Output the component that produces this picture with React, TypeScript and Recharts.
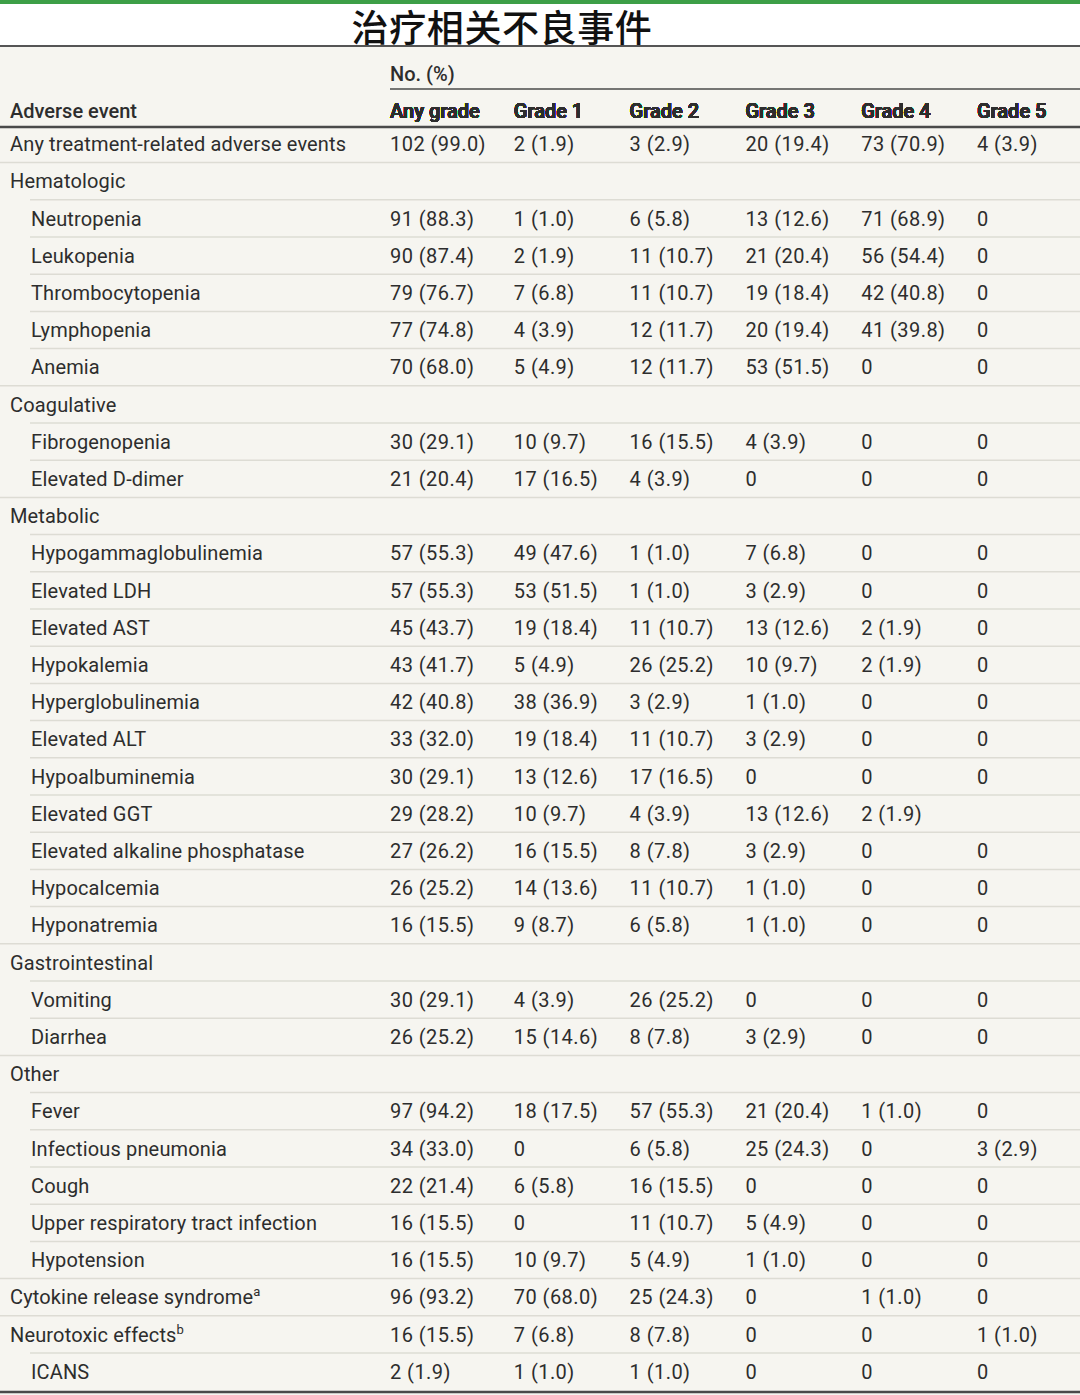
import React from "react";
import { ScatterChart, Scatter, XAxis, YAxis, Customized } from "recharts";

// table content
const gradeColumns = ["Any grade", "Grade 1", "Grade 2", "Grade 3", "Grade 4", "Grade 5"];

const events = [
  "Any treatment-related adverse events",
  "Hematologic",
  "Neutropenia",
  "Leukopenia",
  "Thrombocytopenia",
  "Lymphopenia",
  "Anemia",
  "Coagulative",
  "Fibrogenopenia",
  "Elevated D-dimer",
  "Metabolic",
  "Hypogammaglobulinemia",
  "Elevated LDH",
  "Elevated AST",
  "Hypokalemia",
  "Hyperglobulinemia",
  "Elevated ALT",
  "Hypoalbuminemia",
  "Elevated GGT",
  "Elevated alkaline phosphatase",
  "Hypocalcemia",
  "Hyponatremia",
  "Gastrointestinal",
  "Vomiting",
  "Diarrhea",
  "Other",
  "Fever",
  "Infectious pneumonia",
  "Cough",
  "Upper respiratory tract infection",
  "Hypotension",
  "Cytokine release syndrome",
  "Neurotoxic effects",
  "ICANS",
];

// 0 = top level, 1 = indented
const levels = [0, 0, 1, 1, 1, 1, 1, 0, 1, 1, 0, 1, 1, 1, 1, 1, 1, 1, 1, 1, 1, 1, 0, 1, 1, 0, 1, 1, 1, 1, 1, 0, 0, 1];

const footnotes: Record<string, string> = {
  "Cytokine release syndrome": "a",
  "Neurotoxic effects": "b",
};

const anyGrade = ["102 (99.0)", "", "91 (88.3)", "90 (87.4)", "79 (76.7)", "77 (74.8)", "70 (68.0)", "", "30 (29.1)", "21 (20.4)", "", "57 (55.3)", "57 (55.3)", "45 (43.7)", "43 (41.7)", "42 (40.8)", "33 (32.0)", "30 (29.1)", "29 (28.2)", "27 (26.2)", "26 (25.2)", "16 (15.5)", "", "30 (29.1)", "26 (25.2)", "", "97 (94.2)", "34 (33.0)", "22 (21.4)", "16 (15.5)", "16 (15.5)", "96 (93.2)", "16 (15.5)", "2 (1.9)"];
const grade1 = ["2 (1.9)", "", "1 (1.0)", "2 (1.9)", "7 (6.8)", "4 (3.9)", "5 (4.9)", "", "10 (9.7)", "17 (16.5)", "", "49 (47.6)", "53 (51.5)", "19 (18.4)", "5 (4.9)", "38 (36.9)", "19 (18.4)", "13 (12.6)", "10 (9.7)", "16 (15.5)", "14 (13.6)", "9 (8.7)", "", "4 (3.9)", "15 (14.6)", "", "18 (17.5)", "0", "6 (5.8)", "0", "10 (9.7)", "70 (68.0)", "7 (6.8)", "1 (1.0)"];
const grade2 = ["3 (2.9)", "", "6 (5.8)", "11 (10.7)", "11 (10.7)", "12 (11.7)", "12 (11.7)", "", "16 (15.5)", "4 (3.9)", "", "1 (1.0)", "1 (1.0)", "11 (10.7)", "26 (25.2)", "3 (2.9)", "11 (10.7)", "17 (16.5)", "4 (3.9)", "8 (7.8)", "11 (10.7)", "6 (5.8)", "", "26 (25.2)", "8 (7.8)", "", "57 (55.3)", "6 (5.8)", "16 (15.5)", "11 (10.7)", "5 (4.9)", "25 (24.3)", "8 (7.8)", "1 (1.0)"];
const grade3 = ["20 (19.4)", "", "13 (12.6)", "21 (20.4)", "19 (18.4)", "20 (19.4)", "53 (51.5)", "", "4 (3.9)", "0", "", "7 (6.8)", "3 (2.9)", "13 (12.6)", "10 (9.7)", "1 (1.0)", "3 (2.9)", "0", "13 (12.6)", "3 (2.9)", "1 (1.0)", "1 (1.0)", "", "0", "3 (2.9)", "", "21 (20.4)", "25 (24.3)", "0", "5 (4.9)", "1 (1.0)", "0", "0", "0"];
const grade4 = ["73 (70.9)", "", "71 (68.9)", "56 (54.4)", "42 (40.8)", "41 (39.8)", "0", "", "0", "0", "", "0", "0", "2 (1.9)", "2 (1.9)", "0", "0", "0", "2 (1.9)", "0", "0", "0", "", "0", "0", "", "1 (1.0)", "0", "0", "0", "0", "1 (1.0)", "0", "0"];
const grade5 = ["4 (3.9)", "", "0", "0", "0", "0", "0", "", "0", "0", "", "0", "0", "0", "0", "0", "0", "0", "", "0", "0", "0", "", "0", "0", "", "0", "3 (2.9)", "0", "0", "0", "0", "1 (1.0)", "0"];

const gradeValues = [anyGrade, grade1, grade2, grade3, grade4, grade5];

const cells = events.flatMap((event, i) =>
  gradeColumns.map((grade, j) => ({ event, grade, text: gradeValues[j][i] }))
);

const FONT = 'Roboto, "Noto Sans", sans-serif';
const INK = "#2d2d2d";
const ROW_H = 37.2;

function CellText(props: any) {
  const { cx, cy, payload } = props;
  const dx = payload.grade === gradeColumns[0] ? -8 : 0;
  return (
    <text x={cx + dx} y={cy} dy="0.36em" fontSize={20} letterSpacing={0.45} fill={INK} fontFamily={FONT}>
      {payload.text}
    </text>
  );
}

function EventTick(props: any) {
  const { y, payload } = props;
  const idx = events.indexOf(payload.value);
  const lvl = levels[idx];
  const sup = footnotes[payload.value];
  return (
    <g>
      {idx > 0 && (
        <line
          x1={lvl ? 30 : 0}
          x2={1080}
          y1={y - ROW_H / 2}
          y2={y - ROW_H / 2}
          stroke="#dddcd4"
          strokeWidth={1.5}
        />
      )}
      <text
        x={lvl ? 31 : 10}
        y={y}
        dy="0.36em"
        fontSize={20}
        letterSpacing={0.15}
        fill={INK}
        fontFamily={FONT}
        textAnchor="start"
      >
        {payload.value}
        {sup && (
          <tspan dy={-8} fontSize={13}>
            {sup}
          </tspan>
        )}
      </text>
    </g>
  );
}

function GradeTick(props: any) {
  const { x, payload } = props;
  const dx = payload.value === gradeColumns[0] ? -8 : 0;
  return (
    <text x={x + dx} y={111} dy="0.36em" fontSize={20} fontWeight={500} fill={INK} fontFamily={FONT} textAnchor="start">
      {payload.value}
    </text>
  );
}

function HeaderDecor() {
  return (
    <g fontFamily={FONT} fill={INK}>
      <text x={390} y={74} dy="0.36em" fontSize={20} fontWeight={500}>
        No. (%)
      </text>
      <line x1={390} x2={1080} y1={89} y2={89} stroke="#4a4a4a" strokeWidth={1.5} />
      <text x={10} y={111} dy="0.36em" fontSize={20} fontWeight={500}>
        Adverse event
      </text>
      <line x1={0} x2={1080} y1={127} y2={127} stroke="#4a4a4a" strokeWidth={2.5} />
      <line x1={0} x2={1080} y1={1392} y2={1392} stroke="#4a4a4a" strokeWidth={2.5} />
    </g>
  );
}

export default function App() {
  return (
    <div
      style={{
        position: "absolute",
        left: 0,
        top: 0,
        width: 1080,
        height: 1395,
        background: "#f6f5f0",
        overflow: "hidden",
      }}
    >
      <div style={{ position: "absolute", left: 0, top: 0, width: 1080, height: 46, background: "#ffffff" }} />
      <div style={{ position: "absolute", left: 0, top: 0, width: 1080, height: 4, background: "#3d9f47" }} />
      <div
        style={{
          position: "absolute",
          left: 0,
          top: 5,
          width: 1004,
          height: 42,
          lineHeight: "42px",
          textAlign: "center",
          fontFamily: '"Noto Sans CJK SC", sans-serif',
          fontSize: 37,
          fontWeight: 500,
          letterSpacing: 0.6,
          color: "#111",
        }}
      >
        治疗相关不良事件
      </div>
      <div style={{ position: "absolute", left: 0, top: 45, width: 1080, height: 2, background: "#555" }} />
      <div style={{ position: "absolute", left: 0, top: 0 }}>
        <ScatterChart width={1080} height={1395} margin={{ top: 143, right: 103, bottom: 23.4, left: 397 }}>
          <XAxis
            dataKey="grade"
            type="category"
            orientation="top"
            scale="point"
            allowDuplicatedCategory={false}
            height={1}
            axisLine={false}
            tickLine={false}
            interval={0}
            tick={<GradeTick />}
          />
          <YAxis
            dataKey="event"
            type="category"
            scale="point"
            reversed
            allowDuplicatedCategory={false}
            width={1}
            axisLine={false}
            tickLine={false}
            interval={0}
            tick={<EventTick />}
          />
          <Customized component={<HeaderDecor />} />
          <Scatter data={cells} shape={<CellText />} isAnimationActive={false} />
        </ScatterChart>
      </div>
    </div>
  );
}
